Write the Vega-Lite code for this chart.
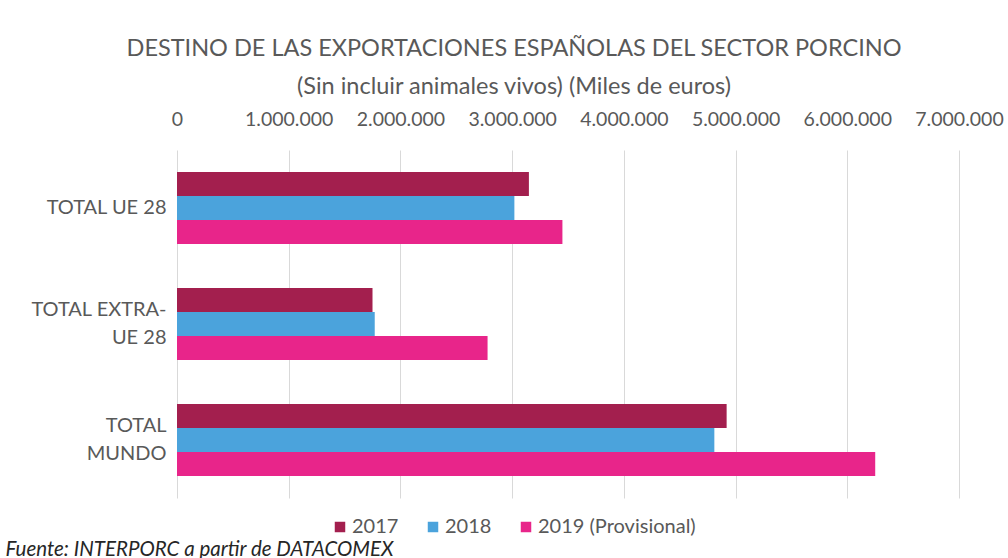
{
  "$schema": "https://vega.github.io/schema/vega-lite/v6.json",
  "width": 782,
  "height": 348,
  "autosize": {"type": "none"},
  "padding": {"left": 177, "top": 150, "right": 49, "bottom": 60},
  "background": "white",
  "title": {
    "text": ["DESTINO DE LAS EXPORTACIONES ESPAÑOLAS DEL SECTOR PORCINO", "(Sin incluir animales vivos) (Miles de euros)"],
    "anchor": "middle",
    "dx": -54,
    "offset": 11,
    "font": "Lato",
    "fontSize": 23.5,
    "fontWeight": "normal",
    "color": "#595959",
    "lineHeight": 38
  },
  "data": {
    "values": [
      {"destino": "TOTAL UE 28", "serie": "2017", "valor": 3150000},
      {"destino": "TOTAL UE 28", "serie": "2018", "valor": 3020000},
      {"destino": "TOTAL UE 28", "serie": "2019 (Provisional)", "valor": 3450000},
      {"destino": "TOTAL EXTRA-UE 28", "serie": "2017", "valor": 1750000},
      {"destino": "TOTAL EXTRA-UE 28", "serie": "2018", "valor": 1770000},
      {"destino": "TOTAL EXTRA-UE 28", "serie": "2019 (Provisional)", "valor": 2780000},
      {"destino": "TOTAL MUNDO", "serie": "2017", "valor": 4920000},
      {"destino": "TOTAL MUNDO", "serie": "2018", "valor": 4810000},
      {"destino": "TOTAL MUNDO", "serie": "2019 (Provisional)", "valor": 6250000}
    ]
  },
  "mark": {"type": "bar"},
  "encoding": {
    "y": {
      "field": "destino",
      "type": "nominal",
      "sort": ["TOTAL UE 28", "TOTAL EXTRA-UE 28", "TOTAL MUNDO"],
      "scale": {"paddingInner": 0.38, "paddingOuter": 0.19},
      "axis": {
        "title": "Fuente: INTERPORC  a partir de DATACOMEX",
        "titleAngle": 0,
        "titleAlign": "left",
        "titleBaseline": "alphabetic",
        "titleX": -172,
        "titleY": 405,
        "titleFont": "Lato",
        "titleFontSize": 20.5,
        "titleFontStyle": "italic",
        "titleFontWeight": "normal",
        "titleColor": "#262626",
        "domain": false,
        "ticks": false,
        "labelPadding": 11,
        "labelFont": "Lato",
        "labelFontSize": 20,
        "labelColor": "#595959",
        "labelLineHeight": 28,
        "labelOffset": {"condition": {"test": "datum.value != 'TOTAL UE 28'", "value": -14}, "value": 0},
        "labelExpr": "datum.value == 'TOTAL EXTRA-UE 28' ? ['TOTAL EXTRA-', 'UE 28'] : datum.value == 'TOTAL MUNDO' ? ['TOTAL', 'MUNDO'] : datum.value"
      }
    },
    "yOffset": {
      "field": "serie",
      "type": "nominal",
      "sort": ["2017", "2018", "2019 (Provisional)"],
      "scale": {"paddingInner": 0, "paddingOuter": 0}
    },
    "x": {
      "field": "valor",
      "type": "quantitative",
      "scale": {"domain": [0, 7000000], "nice": false},
      "axis": {
        "orient": "top",
        "title": null,
        "values": [0, 1000000, 2000000, 3000000, 4000000, 5000000, 6000000, 7000000],
        "format": ",d",
        "domain": false,
        "ticks": false,
        "labelOverlap": false,
        "labelBound": false,
        "labelFlush": false,
        "labelPadding": 21,
        "labelFont": "Lato",
        "labelFontSize": 19.5,
        "labelColor": "#595959",
        "gridColor": "#d9d9d9",
        "gridWidth": 1
      }
    },
    "color": {
      "field": "serie",
      "type": "nominal",
      "sort": ["2017", "2018", "2019 (Provisional)"],
      "scale": {"domain": ["2017", "2018", "2019 (Provisional)"], "range": ["#a31f4e", "#4ba3dc", "#e8258a"]},
      "legend": {
        "title": null,
        "orient": "none",
        "legendX": 153,
        "legendY": 367,
        "direction": "horizontal",
        "symbolType": "square",
        "symbolSize": 110,
        "symbolStrokeWidth": 0,
        "labelFont": "Lato",
        "labelFontSize": 20,
        "labelColor": "#595959",
        "labelOffset": 2,
        "columnPadding": 24
      }
    }
  },
  "config": {
    "view": {"stroke": null},
    "locale": {"number": {"decimal": ",", "thousands": ".", "grouping": [3], "currency": ["", " €"]}}
  }
}
